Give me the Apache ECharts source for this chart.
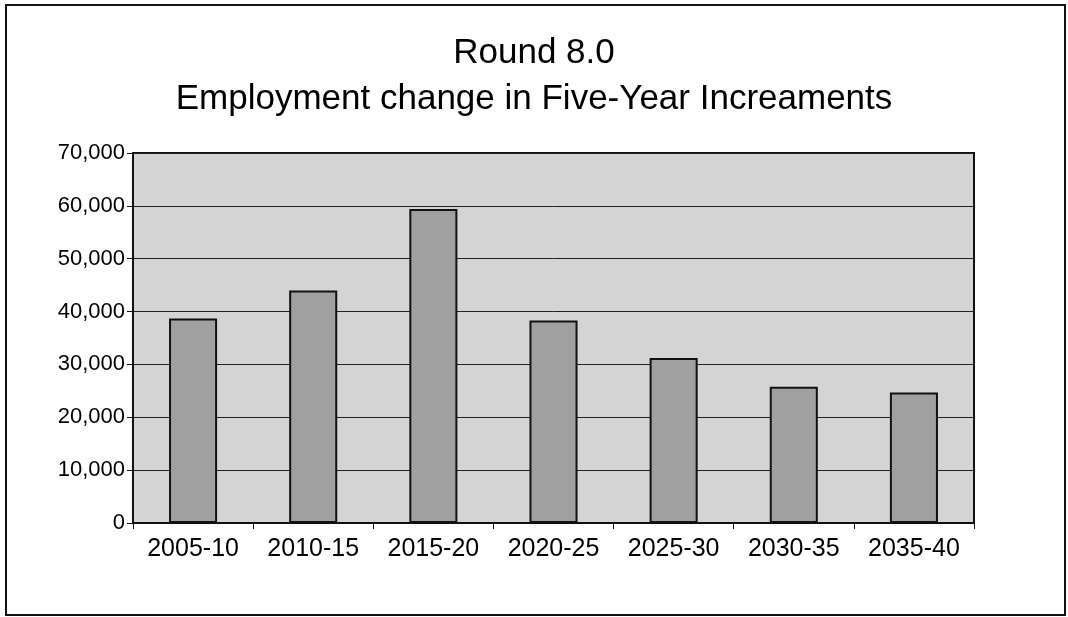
<!DOCTYPE html>
<html>
<head>
<meta charset="utf-8">
<script src="https://cdn.jsdelivr.net/npm/echarts@6/dist/echarts.min.js"></script>
<style>html,body{margin:0;padding:0;background:#fff}#c{width:1068px;height:617px}</style>
</head>
<body>
<div id="c"></div>
<script>
const titleLines = ['Round 8.0', 'Employment change in Five-Year Increaments'];
const categories = ['2005-10', '2010-15', '2015-20', '2020-25', '2025-30', '2030-35', '2035-40'];
const employmentChange = [38700, 44000, 59400, 38300, 31200, 25800, 24700];
const yTicks = [0, 10000, 20000, 30000, 40000, 50000, 60000, 70000];

const chart = echarts.init(document.getElementById('c'), null, {renderer: 'canvas'});
const font = 'Liberation Sans, Arial, sans-serif';
chart.setOption({
  animation: false,
  backgroundColor: '#ffffff',
  title: {
    text: titleLines.join('\n'),
    left: 'center',
    top: 25,
    textStyle: {fontFamily: font, fontSize: 35, fontWeight: 'normal', color: '#000', lineHeight: 46}
  },
  graphic: [{
    type: 'rect',
    shape: {x: 6, y: 5, width: 1059, height: 610},
    style: {fill: 'none', stroke: '#111', lineWidth: 2},
    silent: true
  }],
  grid: {
    left: 133, right: 94, top: 153, bottom: 94,
    show: true, backgroundColor: '#d4d4d4', borderColor: '#111', borderWidth: 2
  },
  xAxis: {
    type: 'category',
    data: categories,
    axisLine: {lineStyle: {color: '#111', width: 2}},
    axisTick: {show: true, alignWithLabel: false, length: 6, lineStyle: {color: '#111'}},
    axisLabel: {fontFamily: font, fontSize: 25, color: '#000', margin: 14}
  },
  yAxis: {
    type: 'value',
    min: yTicks[0], max: yTicks[yTicks.length - 1], interval: 10000,
    axisLine: {show: true, lineStyle: {color: '#111', width: 2}},
    axisTick: {show: true, length: 6, lineStyle: {color: '#111'}},
    splitLine: {show: true, lineStyle: {color: '#222', width: 1}},
    axisLabel: {
      fontFamily: font, fontSize: 22, color: '#000', margin: 8,
      formatter: v => v.toLocaleString('en-US')
    }
  },
  series: [{
    type: 'bar',
    data: employmentChange,
    barWidth: '40%',
    itemStyle: {color: '#a0a0a0', borderColor: '#111', borderWidth: 2}
  }]
});
</script>
</body>
</html>
